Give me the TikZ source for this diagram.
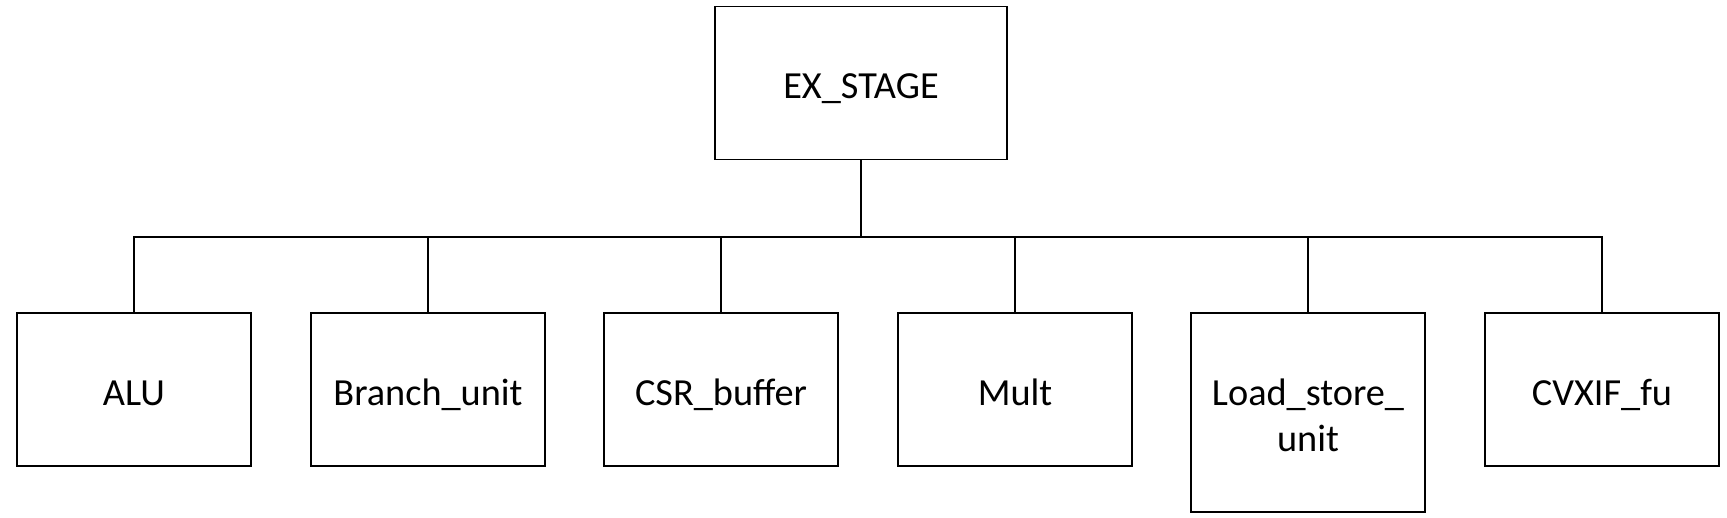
\documentclass[tikz,border=0pt]{standalone}
\usepackage{fontspec}
\setmainfont{Carlito}
\usepackage{tikz}
\usetikzlibrary{positioning}
\tikzstyle{unit} = [rectangle, draw, line width=0.45pt, minimum width=2.335cm, minimum height=1.53cm, align=center, text height=9pt, text depth=0pt, font=\fontsize{10.9}{13.05}\selectfont]
\tikzstyle{link} = [line width=0.45pt]

\begin{document}
\begin{tikzpicture}
  \useasboundingbox (0,0) rectangle (17.27,5.18);
  % top stage
  \node[unit, minimum width=2.92cm] (ex) at (8.61,4.35) {EX\_STAGE};
  \coordinate (bus) at (8.61,2.81);

  % functional units
  \node[unit] (alu) at (1.34,1.285) {ALU};
  \node[unit] (branch) at (4.28,1.285) {Branch\_unit};
  \node[unit] (csr) at (7.21,1.285) {CSR\_buffer};
  \node[unit] (mult) at (10.15,1.285) {Mult};
  \node[unit, minimum height=1.99cm, text height=22pt] (lsu) at (13.08,1.055) {Load\_store\_\\unit};
  \node[unit] (cvxif) at (16.02,1.285) {CVXIF\_fu};

  % tree links
  \draw[link] (ex) -- (bus);
  \foreach \u in {alu, branch, csr, mult, lsu, cvxif}
    \draw[link] (bus) -| (\u);
\end{tikzpicture}
\end{document}
